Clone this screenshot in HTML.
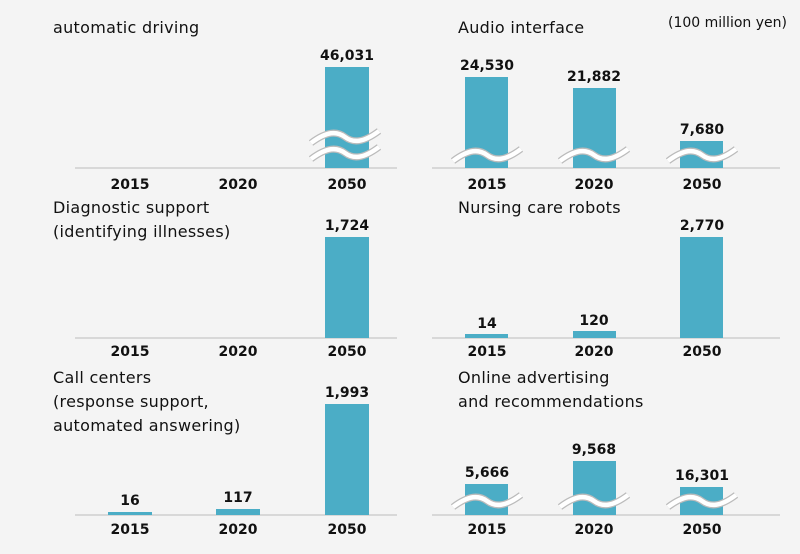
<!DOCTYPE html>
<html><head><meta charset="utf-8"><style>
html,body{margin:0;padding:0;background:#f4f4f4;}
svg{display:block}
.t{font-family:"DejaVu Sans","Liberation Sans",sans-serif;font-size:16px;fill:#111;letter-spacing:0.3px}
.v{font-family:"DejaVu Sans","Liberation Sans",sans-serif;font-size:14px;font-weight:bold;fill:#111;text-anchor:middle}
.y{font-family:"DejaVu Sans","Liberation Sans",sans-serif;font-size:14px;font-weight:bold;fill:#111;text-anchor:middle}
</style></head><body>
<svg width="800" height="554" viewBox="0 0 800 554" xmlns="http://www.w3.org/2000/svg">
<defs>
<g id="wv"><path d="M-34,6 C-18,-6 -8,-6 0,0 S18,6 34,-6" fill="none" stroke="#bbb" stroke-width="7"/><path d="M-34,6 C-18,-6 -8,-6 0,0 S18,6 34,-6" fill="none" stroke="#fff" stroke-width="4.5"/></g>
</defs>
<rect width="800" height="554" fill="#f4f4f4"/>
<text class="t" x="53" y="33">automatic driving</text>
<text class="t" x="458" y="33">Audio interface</text>
<text class="t" x="668" y="27" style="font-size:14px;letter-spacing:0">(100 million yen)</text>
<text class="t" x="53" y="213">Diagnostic support</text>
<text class="t" x="53" y="237">(identifying illnesses)</text>
<text class="t" x="458" y="213">Nursing care robots</text>
<text class="t" x="53" y="383">Call centers</text>
<text class="t" x="53" y="407">(response support,</text>
<text class="t" x="53" y="431">automated answering)</text>
<text class="t" x="458" y="383">Online advertising</text>
<text class="t" x="458" y="407">and recommendations</text>
<g stroke="#c8c8c8" stroke-width="1.2">
<line x1="75" y1="168" x2="397" y2="168"/><line x1="432" y1="168" x2="780" y2="168"/>
<line x1="75" y1="338" x2="397" y2="338"/><line x1="432" y1="338" x2="780" y2="338"/>
<line x1="75" y1="515" x2="397" y2="515"/><line x1="432" y1="515" x2="780" y2="515"/>
</g>
<g fill="#4badc6">
<rect x="325" y="67" width="44" height="101"/>
<rect x="465" y="77" width="43" height="91"/><rect x="573" y="88" width="43" height="80"/><rect x="680" y="141" width="43" height="27"/>
<rect x="325" y="237" width="44" height="101"/>
<rect x="465" y="334" width="43" height="4"/><rect x="573" y="331" width="43" height="7"/><rect x="680" y="237" width="43" height="101"/>
<rect x="108" y="512" width="44" height="3"/><rect x="216" y="509" width="44" height="6"/><rect x="325" y="404" width="44" height="111"/>
<rect x="465" y="484" width="43" height="31"/><rect x="573" y="461" width="43" height="54"/><rect x="680" y="487" width="43" height="28"/>
</g>
<use href="#wv" x="345" y="137"/><use href="#wv" x="345" y="153"/>
<use href="#wv" x="487" y="155"/><use href="#wv" x="594" y="155"/><use href="#wv" x="702" y="155"/>
<use href="#wv" x="487" y="501"/><use href="#wv" x="594" y="501"/><use href="#wv" x="702" y="501"/>
<text class="v" x="347" y="60">46,031</text>
<text class="v" x="487" y="70">24,530</text><text class="v" x="594" y="81">21,882</text><text class="v" x="702" y="134">7,680</text>
<text class="v" x="347" y="230">1,724</text>
<text class="v" x="487" y="328">14</text><text class="v" x="594" y="325">120</text><text class="v" x="702" y="230">2,770</text>
<text class="v" x="130" y="505">16</text><text class="v" x="238" y="502">117</text><text class="v" x="347" y="397">1,993</text>
<text class="v" x="487" y="477">5,666</text><text class="v" x="594" y="454">9,568</text><text class="v" x="702" y="480">16,301</text>
<g class="y">
<text x="130" y="189">2015</text><text x="238" y="189">2020</text><text x="347" y="189">2050</text>
<text x="487" y="189">2015</text><text x="594" y="189">2020</text><text x="702" y="189">2050</text>
<text x="130" y="356">2015</text><text x="238" y="356">2020</text><text x="347" y="356">2050</text>
<text x="487" y="356">2015</text><text x="594" y="356">2020</text><text x="702" y="356">2050</text>
<text x="130" y="534">2015</text><text x="238" y="534">2020</text><text x="347" y="534">2050</text>
<text x="487" y="534">2015</text><text x="594" y="534">2020</text><text x="702" y="534">2050</text>
</g>
</svg>
</body></html>
